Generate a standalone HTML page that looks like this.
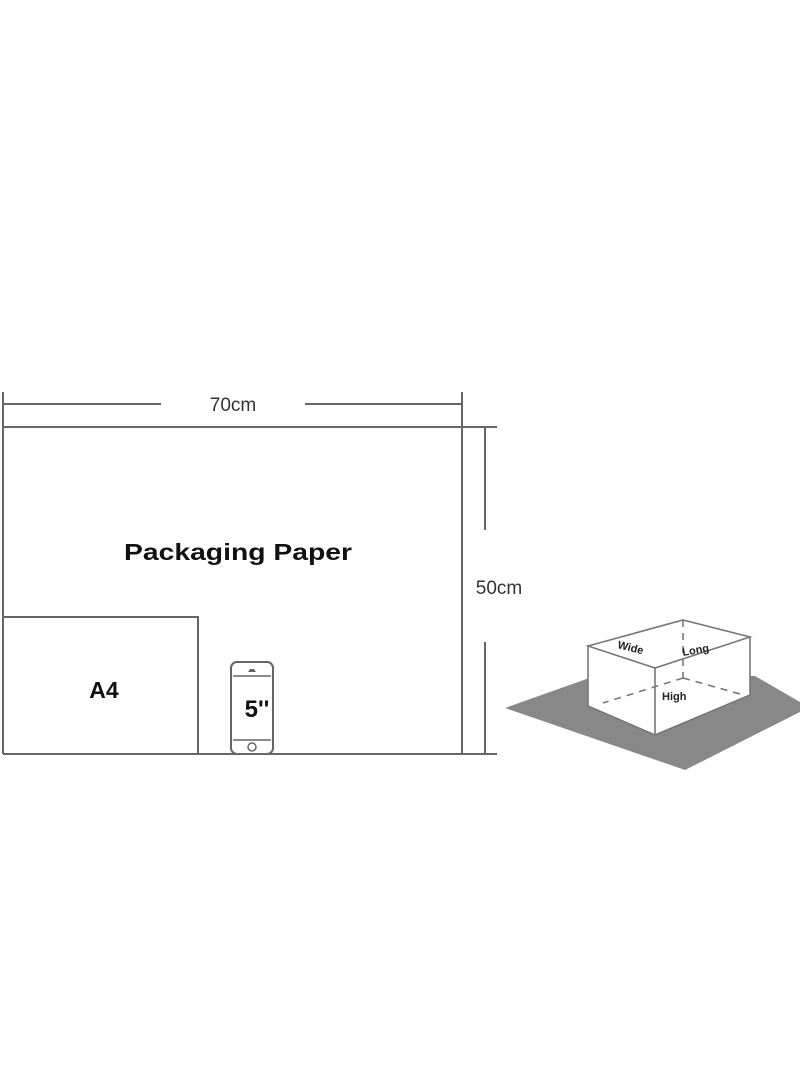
<!DOCTYPE html>
<html><head><meta charset="utf-8"><style>
html,body{margin:0;padding:0;background:#fff;}
svg{display:block;}
</style></head><body>
<svg width="800" height="1090" viewBox="0 0 800 1090" xmlns="http://www.w3.org/2000/svg" font-family="Liberation Sans, sans-serif">
<g stroke="#666" stroke-width="2" fill="none">
  <line x1="3" y1="392" x2="3" y2="754"/>
  <line x1="3" y1="404" x2="161" y2="404"/>
  <line x1="305" y1="404" x2="462" y2="404"/>
  <line x1="462" y1="392" x2="462" y2="754"/>
  <line x1="3" y1="427" x2="497" y2="427"/>
  <line x1="3" y1="754" x2="497" y2="754"/>
  <line x1="485" y1="427" x2="485" y2="530"/>
  <line x1="485" y1="642" x2="485" y2="754"/>
  <polyline points="3,617 198,617 198,754"/>
  <rect x="231" y="662" width="42" height="92" rx="6"/>
  <line x1="233" y1="676" x2="271" y2="676" stroke-width="1.5"/>
  <line x1="233" y1="740" x2="271" y2="740" stroke-width="1.5"/>
  <circle cx="252" cy="747" r="4" stroke-width="1.5"/>
</g>
<path d="M248,672 h8 l-2,-3 h-4z" fill="#666"/>
<text x="233" y="411" font-size="19" fill="#333" text-anchor="middle">70cm</text>
<text x="499" y="594" font-size="19" fill="#333" text-anchor="middle">50cm</text>
<text x="124" y="560" font-size="23" font-weight="bold" fill="#111" textLength="228" lengthAdjust="spacingAndGlyphs">Packaging Paper</text>
<text x="104" y="698" font-size="23" font-weight="bold" fill="#111" text-anchor="middle">A4</text>
<text x="257" y="717" font-size="24" font-weight="bold" fill="#111" text-anchor="middle">5''</text>
<!-- box -->
<polygon points="505,708 595,676 755,676 800,702 800,712 685,770" fill="#888"/>
<polygon points="588,646 683,620 750,637 750,695 655,735 588,706" fill="#fff"/>
<g stroke="#777" stroke-width="1.6" fill="none">
  <polygon points="588,646 683,620 750,637 655,668"/>
  <line x1="588" y1="646" x2="588" y2="706"/>
  <line x1="655" y1="668" x2="655" y2="735"/>
  <line x1="750" y1="637" x2="750" y2="695"/>
  <polyline points="588,706 655,735 750,695"/>
  <g stroke-dasharray="7,6">
    <line x1="683" y1="620" x2="683" y2="678"/>
    <line x1="683" y1="678" x2="603" y2="703"/>
    <line x1="683" y1="678" x2="740" y2="694"/>
  </g>
</g>
<text x="617" y="648" font-size="11" font-weight="bold" fill="#222" transform="rotate(14 617 648)">Wide</text>
<text x="683" y="656" font-size="11" font-weight="bold" fill="#222" transform="rotate(-10 683 656)">Long</text>
<text x="662" y="700" font-size="11" font-weight="bold" fill="#222">High</text>
</svg>
</body></html>
